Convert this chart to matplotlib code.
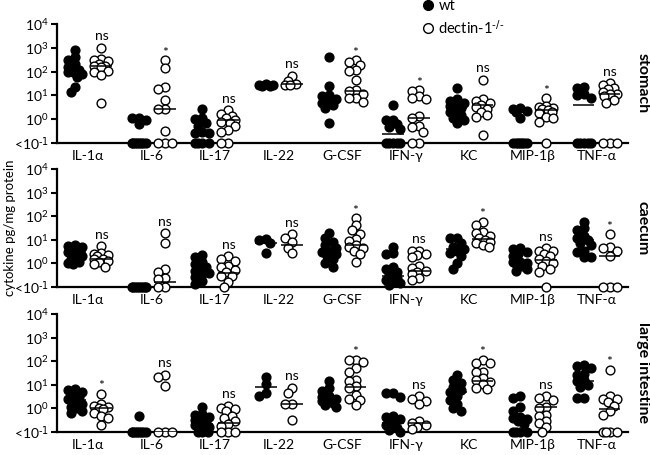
import numpy as np
import matplotlib
matplotlib.use('Agg')
import matplotlib.pyplot as plt
from matplotlib.lines import Line2D

plt.rcParams['font.family'] = ['Lato', 'DejaVu Sans']
plt.rcParams['mathtext.default'] = 'regular'

cytokines = ['IL-1α', 'IL-6', 'IL-17', 'IL-22', 'G-CSF', 'IFN-γ', 'KC', 'MIP-1β', 'TNF-α']
tissues = ['stomach', 'caecum', 'large intestine']

# values, 0.1 = "<10^-1"
stomach_wt = [
    [800, 400, 300, 200, 150, 120, 100, 100, 80, 60, 22, 14],
    [1.1, 1.1, 0.9, 0.6, 0.1, 0.1, 0.1, 0.1, 0.1, 0.1, 0.1, 0.1],
    [2.8, 1.1, 1.0, 0.7, 0.5, 0.3, 0.27, 0.27, 0.1, 0.1, 0.1, 0.1],
    [30, 28, 27, 26, 25],
    [430, 25, 10, 9, 7, 6, 5, 4, 3, 0.7],
    [4, 0.95, 0.9, 0.6, 0.45, 0.4, 0.1, 0.1, 0.1, 0.1, 0.1],
    [20, 7, 6, 5, 4, 3.5, 3, 2.5, 2, 1.5, 1.1, 0.9, 0.7],
    [2.9, 2.8, 2.2, 2, 1.1, 0.1, 0.1, 0.1, 0.1, 0.1, 0.1, 0.1],
    [22, 20, 12, 10, 8, 0.1, 0.1, 0.1, 0.1, 0.1],
]
stomach_ko = [
    [1000, 350, 300, 280, 200, 180, 180, 150, 110, 100, 70, 5],
    [300, 140, 23, 18, 6.5, 2.7, 2.7, 0.32, 0.1, 0.1, 0.1],
    [2.4, 1.6, 1.4, 1.1, 0.9, 0.8, 0.7, 0.5, 0.35, 0.3, 0.1, 0.1],
    [65, 40, 30, 28, 27],
    [310, 260, 190, 120, 110, 45, 17, 15, 12, 8, 7.6, 5.5],
    [17, 15, 9, 8, 7, 1.3, 1.1, 0.5, 0.45, 0.3, 0.1, 0.1],
    [45, 7, 6, 5, 4, 3.2, 2.8, 2, 1.5, 1.2, 0.22],
    [7.6, 3.5, 3.2, 3, 2.6, 2.4, 2, 1.8, 1.2, 1.1, 0.8, 0.1],
    [32, 28, 20, 18, 14, 12, 11, 9, 6.5, 5, 0.1, 0.1, 0.1],
]
stomach_wt_med = [100, 0.1, 0.27, 27, 6, 0.24, 2.9, 0.1, 4]
stomach_ko_med = [180, 2.7, 0.93, 30, 16, 1.1, 4, 2.4, 12]
stomach_sig = ['ns', '*', 'ns', 'ns', '*', '*', 'ns', '*', 'ns']

caecum_wt = [
    [6, 5.5, 5, 4, 3.5, 3, 2.5, 2, 1.6, 1.2, 1.0, 0.9],
    [0.1, 0.1, 0.1, 0.1, 0.1, 0.1, 0.1, 0.1, 0.1],
    [2.2, 1.9, 1.2, 0.9, 0.7, 0.6, 0.5, 0.4, 0.35, 0.26, 0.18, 0.13],
    [11, 9.5, 7, 2.8],
    [19, 12, 8, 6, 4.5, 3.5, 3, 2.5, 2, 1.5, 1.0, 0.7],
    [5, 2.7, 2.4, 0.7, 0.6, 0.45, 0.35, 0.25, 0.2, 0.17, 0.15, 0.12],
    [12.5, 11.5, 7, 5, 4, 3.5, 2.8, 2, 1, 0.6],
    [4.4, 4, 3, 2.5, 2, 1.2, 1.1, 1, 0.9, 0.75, 0.6, 0.5],
    [58, 31, 25, 15, 12, 9.5, 7, 6, 3.5, 3, 1.9, 1.8],
]
caecum_ko = [
    [5.3, 2.8, 2.6, 2.2, 2, 1.6, 1.5, 1.3, 1.1, 0.9, 0.7],
    [19, 7.2, 0.6, 0.45, 0.25, 0.22, 0.1, 0.1],
    [2, 1.5, 1.3, 0.8, 0.7, 0.55, 0.45, 0.3, 0.28, 0.17, 0.1],
    [17, 12, 8, 4.5, 2.8],
    [80, 42, 25, 18, 11, 9, 6, 5, 4.5, 3.5, 2.5, 1.1],
    [3.5, 3.2, 2.5, 2.2, 1.8, 0.75, 0.65, 0.5, 0.45, 0.35, 0.25, 0.19],
    [58, 42, 21, 20, 14, 12, 10, 8, 7, 6, 5],
    [4.4, 3.5, 3.2, 2.5, 2, 1.5, 1.3, 1, 0.8, 0.6, 0.45, 0.1],
    [17, 5, 4.5, 3.5, 2, 0.1, 0.1, 0.1],
]
caecum_wt_med = [3, 0.1, 0.37, 7.2, 2.8, 0.28, 4, 1.0, 9.5]
caecum_ko_med = [1.5, 0.17, 0.4, 6, 6.3, 0.47, 11, 1.35, 2]
caecum_sig = ['ns', 'ns', 'ns', 'ns', '*', 'ns', '*', 'ns', '*']

large_wt = [
    [6.5, 6, 5, 4, 3, 2.5, 2, 1.5, 1.2, 1, 0.8, 0.65],
    [0.5, 0.1, 0.1, 0.1, 0.1, 0.1, 0.1, 0.1, 0.1],
    [1.2, 0.6, 0.55, 0.45, 0.38, 0.33, 0.26, 0.22, 0.2, 0.16, 0.14, 0.1, 0.1, 0.1],
    [21, 11, 4.5, 3.2],
    [14, 7.4, 5.5, 3.5, 3, 2.5, 2.2, 2, 1.7, 1.4, 1.2],
    [4.6, 4.5, 3, 0.5, 0.45, 0.35, 0.25, 0.2, 0.15, 0.12, 0.1],
    [26, 16, 12, 8, 6.2, 5, 3.5, 2.3, 1.6, 1.0, 0.8],
    [3.2, 2.8, 1.2, 0.8, 0.45, 0.4, 0.35, 0.28, 0.22, 0.1, 0.1, 0.1, 0.1],
    [70, 65, 50, 30, 26, 16, 14, 10, 8, 2.8, 2.8],
]
large_ko = [
    [4.2, 1.5, 1.3, 1.1, 1, 0.9, 0.65, 0.5, 0.4, 0.2],
    [26, 21, 9, 0.1, 0.1, 0.1],
    [1.3, 1.0, 0.9, 0.8, 0.5, 0.4, 0.28, 0.22, 0.18, 0.1, 0.1, 0.1],
    [7.3, 4.6, 1.6, 1.5, 0.31],
    [115, 110, 95, 50, 36, 16, 14, 8.5, 7.5, 3.8, 2.5, 2.3, 1.4],
    [3.2, 2.5, 2.1, 1.6, 0.28, 0.25, 0.2, 0.17, 0.13],
    [115, 83, 80, 36, 34, 20, 16, 13, 11, 7.2, 6.5],
    [3.2, 2.8, 2.2, 1.2, 1.0, 0.55, 0.5, 0.3, 0.25, 0.16, 0.1],
    [43, 3.2, 2.5, 2.4, 1.8, 1.3, 0.74, 0.55, 0.1, 0.1, 0.1, 0.1],
]
large_wt_med = [2.3, 0.1, 0.22, 7.7, 2.3, 0.25, 5.2, 0.4, 14]
large_ko_med = [1.0, 0.1, 0.25, 1.6, 8, 0.25, 15, 1.15, 0.93]
large_sig = ['*', 'ns', 'ns', 'ns', '*', 'ns', '*', 'ns', '*']

panels = [
    (stomach_wt, stomach_ko, stomach_wt_med, stomach_ko_med, stomach_sig),
    (caecum_wt, caecum_ko, caecum_wt_med, caecum_ko_med, caecum_sig),
    (large_wt, large_ko, large_wt_med, large_ko_med, large_sig),
]

W, H = 650, 455
fig = plt.figure(figsize=(W / 100, H / 100), dpi=100)
ax_boxes = [(24, 143), (169, 287), (314, 432)]
ax_left, ax_right = 57, 628
xmin, xmax = -0.49, 8.5
px_per_unit = (ax_right - ax_left) / (xmax - xmin)


def swarm(vals, h_px, d=6.0, maxw=7):
    # simple beeswarm: spread points sideways so they do not pile up
    ys = (np.log10(vals) + 1) / 5 * h_px
    order = np.argsort(-ys, kind='stable')
    cands = [0, -4, 4, -7, 7, -2, 2, -6, 6]
    cands = [c for c in cands if abs(c) <= maxw]
    xs = np.zeros(len(vals))
    placed = []
    for i in order:
        best, best_d = 0, -1
        for c in cands:
            md = min([np.hypot(c - px, ys[i] - py) for px, py in placed] or [99])
            if md >= d:
                best = c
                break
            if md > best_d:
                best, best_d = c, md
        xs[i] = best
        placed.append((best, ys[i]))
    return xs / px_per_unit


for p, (wt, ko, wt_med, ko_med, sig) in enumerate(panels):
    top, bot = ax_boxes[p]
    ax = fig.add_axes([ax_left / W, 1 - bot / H, (ax_right - ax_left) / W, (bot - top) / H])
    ax.set_yscale('log')
    ax.set_ylim(0.1, 1e4)
    ax.set_xlim(xmin, xmax)
    h_px = bot - top
    for i in range(len(cytokines)):
        for vals, med, off, face in [(wt[i], wt_med[i], -0.2, 'black'), (ko[i], ko_med[i], 0.21, 'white')]:
            v = np.array(vals, dtype=float)
            x = i + off + swarm(v, h_px)
            ax.scatter(x, v, s=40, facecolor=face, edgecolor='black', linewidth=1.0,
                       zorder=3, clip_on=False)
            ax.plot([i + off - 0.17, i + off + 0.17], [med, med], color='black', lw=1.1,
                    zorder=4, solid_capstyle='butt')
        ymax = max(ko[i])
        ax.annotate(sig[i], (i + 0.21, ymax), xytext=(0, 4 if sig[i] == 'ns' else 1),
                    textcoords='offset points', ha='center', va='bottom', fontsize=10)
    ax.set_yticks([0.1, 1, 10, 100, 1000, 10000])
    ax.set_yticklabels(['<10$^{\\text{-1}}$', '10$^{0}$', '10$^{1}$', '10$^{2}$', '10$^{3}$', '10$^{4}$'])
    ax.minorticks_off()
    ax.set_xticks(range(len(cytokines)))
    ax.set_xticklabels(cytokines)
    ax.tick_params(axis='x', length=0, pad=5, labelsize=10)
    ax.tick_params(axis='y', length=4, width=1.5, direction='out', pad=2, labelsize=10)
    for s in ['top', 'right']:
        ax.spines[s].set_visible(False)
    for s in ['left', 'bottom']:
        ax.spines[s].set_linewidth(1.6)
    ax.patch.set_alpha(0)
    ax.text(1.026, 0.5, tissues[p], transform=ax.transAxes, rotation=-90,
            ha='center', va='center', fontsize=11.5, fontweight='bold')

fig.text(0.016, 0.5, 'cytokine pg/mg protein', rotation=90, ha='center', va='center', fontsize=9.5)

handles = [
    Line2D([], [], marker='o', ls='none', markersize=7, markerfacecolor='black', markeredgecolor='black'),
    Line2D([], [], marker='o', ls='none', markersize=7, markerfacecolor='white', markeredgecolor='black'),
]
fig.legend(handles, ['wt', 'dectin-1$^{\\text{-/-}}$'], loc='upper left', bbox_to_anchor=(0.625, 1.03),
           frameon=False, fontsize=10.5, handletextpad=0.1, labelspacing=0.35, handlelength=1.2)

fig.savefig('out.png', dpi=100)
